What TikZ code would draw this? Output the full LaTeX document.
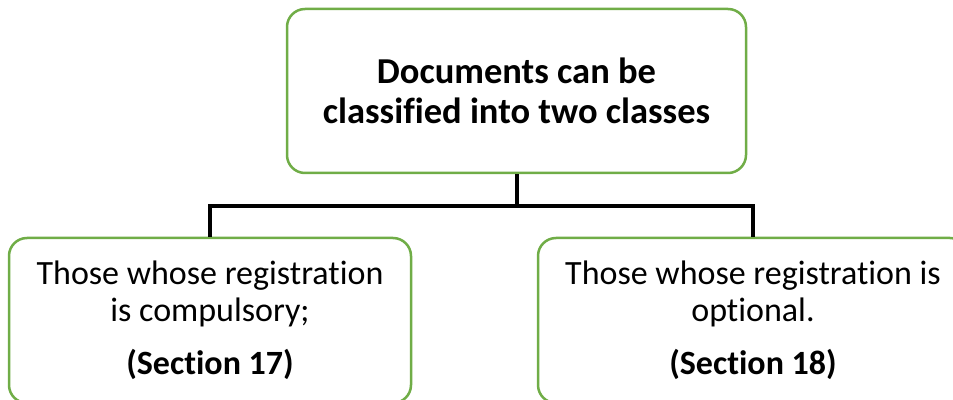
\documentclass[tikz,border=0pt]{standalone}
\usepackage{fontspec}
\setmainfont[Ligatures=NoCommon]{Carlito}
\definecolor{boxgreen}{HTML}{70AD47}
\begin{document}
\begin{tikzpicture}[x=1pt,y=1pt,
  box/.style={draw=boxgreen, line width=2.5pt, rounded corners=18pt, fill=white,
    align=center, inner sep=0pt},
  headtext/.style={font=\fontsize{36.5}{40}\selectfont\bfseries},
  leaftext/.style={font=\fontsize{34}{37}\selectfont},
  link/.style={line width=4pt, black}]
\useasboundingbox (0,0) rectangle (953,399);
\clip (0,0) rectangle (953,399);

% root box
\node[box, headtext, minimum width=459pt, minimum height=164pt] (root) at (516.5,308)
  {Documents can be\\classified into two classes};

% the two classes
\node[box, leaftext, minimum width=402pt, minimum height=165pt] (comp) at (210,78.5)
  {Those whose registration\\is compulsory;\\[16pt]\textbf{(Section 17)}};
\node[box, leaftext, minimum width=430pt, minimum height=165pt] (opt) at (753,78.5)
  {Those whose registration is\\optional.\\[16pt]\textbf{(Section 18)}};

% tree connectors
\coordinate (split) at (516.5,193);
\draw[link] (root.south) -- (split) -| (comp.north);
\draw[link] (split) -| (opt.north);
\end{tikzpicture}
\end{document}
